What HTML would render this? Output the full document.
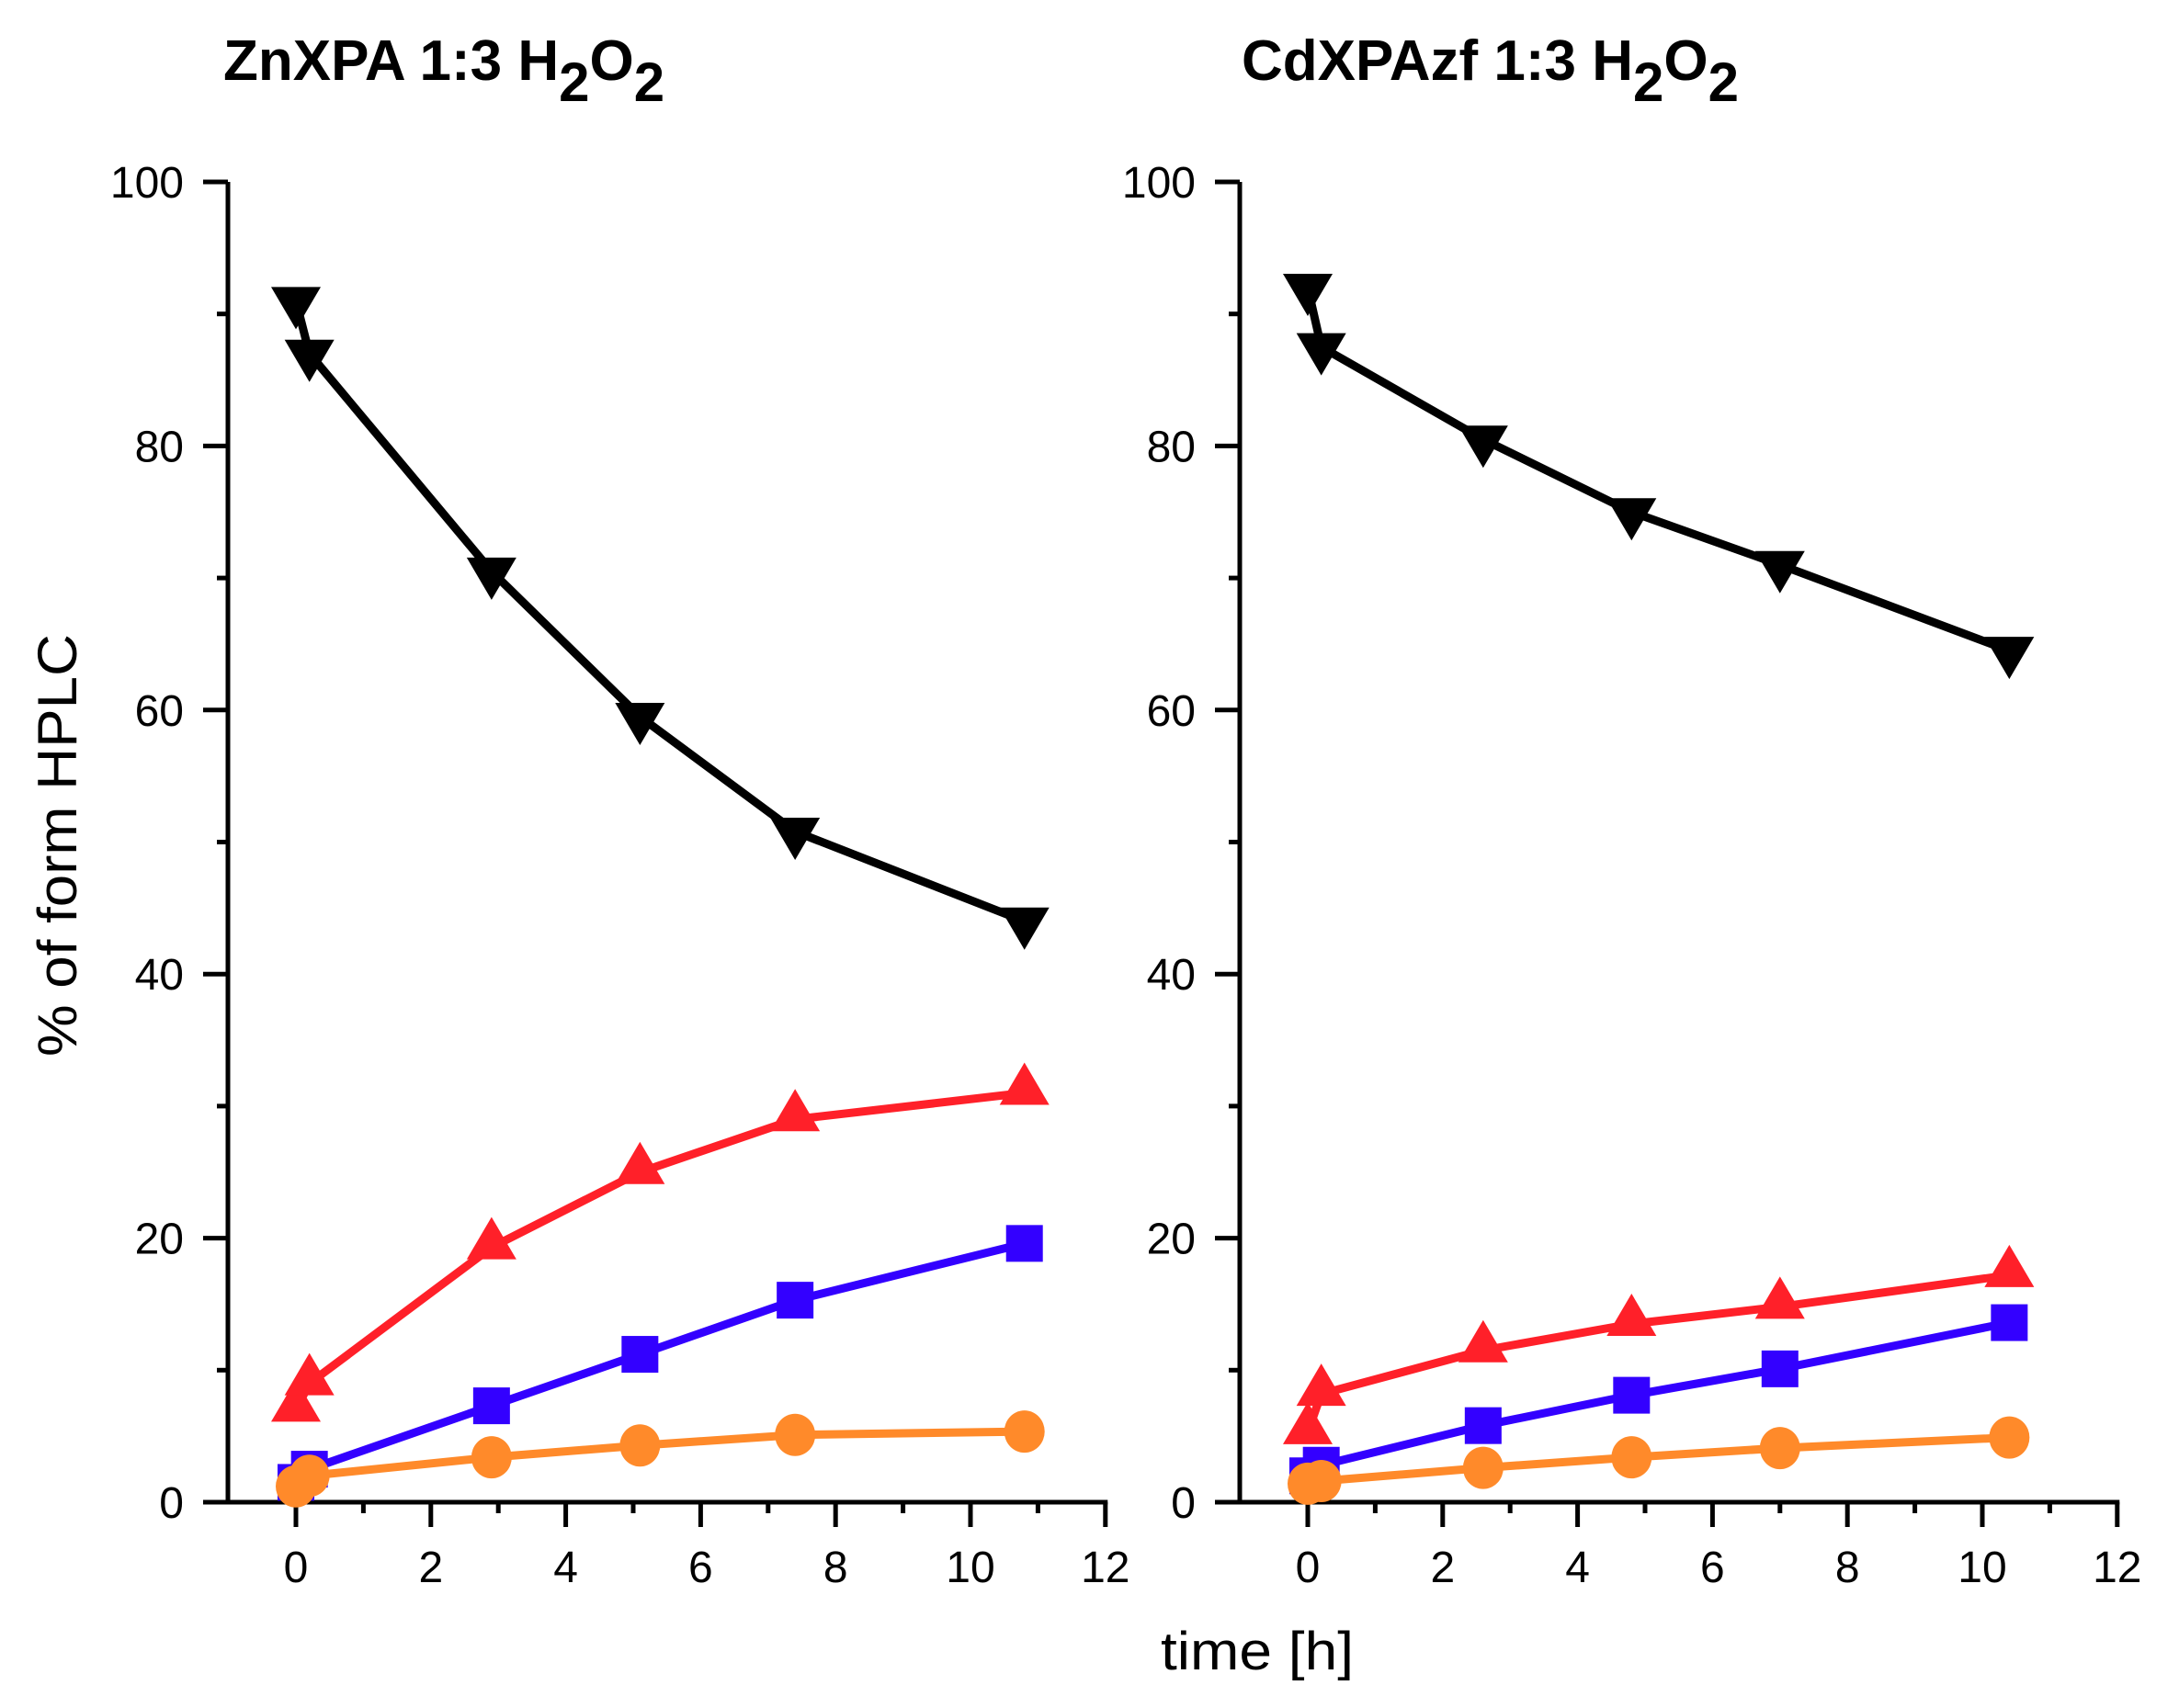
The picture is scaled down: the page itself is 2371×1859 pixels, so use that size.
<!DOCTYPE html>
<html><head><meta charset="utf-8">
<style>
html,body{margin:0;padding:0;background:#fff;}
svg{display:block;}
text{font-family:"Liberation Sans",sans-serif;fill:#000;}
</style></head>
<body>
<svg id="s" width="2371" height="1859" viewBox="0 0 2371 1859" xmlns="http://www.w3.org/2000/svg">
<rect width="2371" height="1859" fill="#fff"/>
<text x="243" y="87" font-size="62" font-weight="bold">ZnXPA 1:3 H<tspan font-size="60" dy="23">2</tspan><tspan dy="-23">O</tspan><tspan font-size="60" dy="23">2</tspan></text>
<text x="1351" y="87" font-size="62" font-weight="bold">CdXPAzf 1:3 H<tspan font-size="60" dy="23">2</tspan><tspan dy="-23">O</tspan><tspan font-size="60" dy="23">2</tspan></text>
<text transform="translate(83,920) rotate(-90)" text-anchor="middle" font-size="60" textLength="460" lengthAdjust="spacingAndGlyphs">% of form HPLC</text>
<text x="1263" y="1817" font-size="58" textLength="210" lengthAdjust="spacingAndGlyphs">time [h]</text>
<g id="g"></g>
</svg>
<script>
var NS="http://www.w3.org/2000/svg",g=document.getElementById('g');
function el(t,a,txt){var e=document.createElementNS(NS,t);for(var k in a)e.setAttribute(k,a[k]);if(txt!=null)e.textContent=txt;g.appendChild(e);return e;}
var Y0=1635,YS=14.37,XU=73.4;
function panel(ax,x0,data){
  var X=function(v){return x0+v*XU;},Y=function(v){return Y0-v*YS;};
  el('line',{x1:ax,y1:198,x2:ax,y2:Y0+2.5,stroke:'#000','stroke-width':5});
  el('line',{x1:ax-2.5,y1:Y0,x2:X(12)+2.5,y2:Y0,stroke:'#000','stroke-width':5});
  for(var v=0;v<=100;v+=10){var maj=v%20==0;
    el('line',{x1:ax-(maj?27:12),y1:Y(v),x2:ax,y2:Y(v),stroke:'#000','stroke-width':5});
    if(maj)el('text',{x:ax-48,y:Y(v)+17,'font-size':48,'text-anchor':'end'},String(v));}
  for(var v=-1;v<=12;v++){var maj=v%2==0;if(v==-1)continue;
    el('line',{x1:X(v),y1:Y0,x2:X(v),y2:Y0+(maj?27:12),stroke:'#000','stroke-width':5});
    if(maj)el('text',{x:X(v),y:1722,'font-size':48,'text-anchor':'middle'},String(v));}
  data.forEach(function(s){
    var pts=s.p.map(function(p){return X(p[0])+','+Y(p[1]);}).join(' ');
    el('polyline',{points:pts,fill:'none',stroke:s.c,'stroke-width':9,'stroke-linejoin':'round'});
    s.p.forEach(function(p){var cx=X(p[0]),cy=Y(p[1]);
      if(s.m=='dn')el('polygon',{points:(cx-27)+','+(cy-15)+' '+(cx+27)+','+(cy-15)+' '+cx+','+(cy+31),fill:s.c});
      else if(s.m=='up')el('polygon',{points:(cx-27)+','+(cy+13)+' '+(cx+27)+','+(cy+13)+' '+cx+','+(cy-33),fill:s.c});
      else if(s.m=='sq')el('rect',{x:cx-20,y:cy-20,width:40,height:40,fill:s.c});
      else el('ellipse',{cx:cx,cy:cy,rx:22,ry:23,fill:s.c});
    });
  });
}
panel(248,322,[
 {c:'#000',m:'dn',p:[[0,91],[0.2,87],[2.9,70.5],[5.1,59.5],[7.4,50.8],[10.8,44]]},
 {c:'#ff2029',m:'up',p:[[0,7],[0.2,9],[2.9,19.3],[5.1,25],[7.4,29],[10.8,31]]},
 {c:'#3300ff',m:'sq',p:[[0,1.5],[0.2,2.5],[2.9,7.3],[5.1,11.2],[7.4,15.3],[10.8,19.6]]},
 {c:'#ff8a2a',m:'ci',p:[[0,1.2],[0.2,2],[2.9,3.4],[5.1,4.3],[7.4,5.1],[10.8,5.35]]}
]);
panel(1349,1423,[
 {c:'#000',m:'dn',p:[[0,92],[0.2,87.5],[2.6,80.5],[4.8,75],[7,71],[10.4,64.5]]},
 {c:'#ff2029',m:'up',p:[[0,5.3],[0.2,8.2],[2.6,11.5],[4.8,13.5],[7,14.8],[10.4,17.2]]},
 {c:'#3300ff',m:'sq',p:[[0,2],[0.2,2.8],[2.6,5.8],[4.8,8.1],[7,10.1],[10.4,13.6]]},
 {c:'#ff8a2a',m:'ci',p:[[0,1.4],[0.2,1.6],[2.6,2.6],[4.8,3.4],[7,4.1],[10.4,4.9]]}
]);
</script>
</body></html>
